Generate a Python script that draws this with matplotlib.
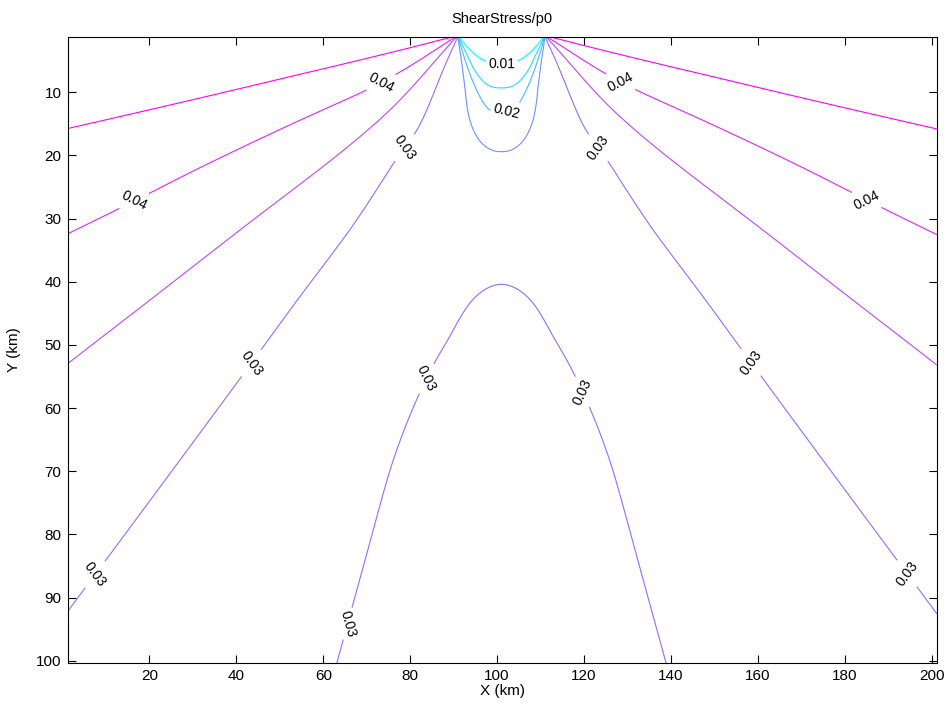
import numpy as np
import matplotlib
matplotlib.use("Agg")
import matplotlib.pyplot as plt
from matplotlib import colors as mcolors

# ---------------- data ----------------
title = "ShearStress/p0"
xlabel = "X (km)"
ylabel = "Y (km)"
levels = [0.01, 0.015, 0.02, 0.025, 0.03, 0.035, 0.04, 0.045]
label_levels = [0.01, 0.02, 0.03, 0.04]
xticks = [20, 40, 60, 80, 100, 120, 140, 160, 180, 200]
yticks = [10, 20, 30, 40, 50, 60, 70, 80, 90, 100]

# loaded strip at the surface (km)
strip_left, strip_right, surface_y = 91.0, 111.0, 1.0

# contour crossings (left half; the field is symmetric)
c045_x = [1.7, 30.1, 52.3, 76.1]
c045_y = [15.7, 11.2, 7.5, 3.6]
c040_x = [1.3, 13.2, 30.1, 53.1, 69.2, 78.4]
c040_y = [32.3, 28.6, 22.3, 14.9, 9.9, 6.5]
c035_x = [1.2, 20.2, 40.8, 60.8, 76.1]
c035_y = [52.9, 42.9, 31.8, 21.3, 12.3]
c030_x = [1.3, 10.6, 25.9, 40.9, 54.0, 66.1, 76.1, 81.8]
c030_y = [91.9, 83.6, 69.3, 55.3, 42.9, 31.8, 21.3, 15.7]
dome_x = [101.0, 93.7, 89.1, 81.1, 75.3, 71.1, 66.9, 63.1]
dome_y = [40.4, 43.4, 48.7, 59.3, 69.8, 80.4, 90.9, 100.4]
strip_x = [101.0, 101.0, 101.0, 101.0, 92.6, 94.5, 98.3, 94.5, 97.6, 98.3]
strip_y = [5.5, 9.3, 13.0, 19.4, 9.3, 15.9, 19.0, 6.1, 8.7, 12.8]
strip_v = [0.01, 0.015, 0.02, 0.025, 0.025, 0.025, 0.025, 0.015, 0.015, 0.02]
# directions (deg below the outward surface) of the contours leaving the strip edge
edge_dir = [0.0, 10.0, 23.6, 37.0, 58.0, 101.0, 112.0, 124.0, 140.0, 175.0]
edge_val = [0.048, 0.045, 0.04, 0.035, 0.03, 0.025, 0.02, 0.015, 0.01, 0.006]
# values between the contours
fill_x = [1.3, 101.0, 101.0, 30.0]
fill_y = [1.5, 1.8, 95.0, 95.0]
fill_v = [0.048, 0.006, 0.032, 0.0285]

# label anchor points (x, y)
label_pos = [(73.0, 8.1), (16.4, 27.1), (128.3, 8.5), (185.3, 26.7),
             (78.4, 18.6), (123.2, 18.8), (43.1, 52.7), (159.3, 52.3),
             (7.0, 86.1), (194.5, 86.1), (83.4, 55.2), (119.0, 57.6),
             (65.0, 94.0), (101.1, 6.0), (102.2, 12.8)]

edge_r = 3.0
edge_x = [strip_left - edge_r * np.cos(np.radians(t)) for t in edge_dir]
edge_y = [surface_y + max(edge_r * np.sin(np.radians(t)), 0.3) for t in edge_dir]

pts_x = c045_x + c040_x + c035_x + c030_x + dome_x + strip_x + edge_x + fill_x
pts_y = c045_y + c040_y + c035_y + c030_y + dome_y + strip_y + edge_y + fill_y
pts_v = ([0.045] * len(c045_x) + [0.04] * len(c040_x) + [0.035] * len(c035_x)
         + [0.03] * len(c030_x) + [0.03] * len(dome_x) + strip_v + edge_val
         + fill_v)


# ---------------- smooth field through the read points ----------------
def angle_coords(x, y):
    x = np.asarray(x, float)
    d = np.maximum(np.asarray(y, float) - surface_y, 1e-6)
    a = np.degrees(np.arctan2(d, strip_left - x))
    b = np.degrees(np.arctan2(d, x - strip_right))
    psi = (a - b + 180.0) / 2.0
    alpha = a + b - 180.0
    return psi / 90.0, alpha / 90.0


pu, pv = angle_coords(pts_x, pts_y)
# mirror for the symmetric right half
pu = np.concatenate([pu, 2.0 - pu])
pv = np.concatenate([pv, pv])
vals = np.concatenate([pts_v, pts_v])


def tps_kernel(r):
    with np.errstate(divide='ignore', invalid='ignore'):
        k = r ** 2 * np.log(r)
    return np.where(r > 0, k, 0.0)


n = len(pu)
R = np.hypot(pu[:, None] - pu[None, :], pv[:, None] - pv[None, :])
K = tps_kernel(R) + 2e-4 * np.eye(n)
Pm = np.column_stack([np.ones(n), pu, pv])
M = np.zeros((n + 3, n + 3))
M[:n, :n] = K
M[:n, n:] = Pm
M[n:, :n] = Pm.T
sol = np.linalg.solve(M, np.concatenate([vals, np.zeros(3)]))
w, c = sol[:n], sol[n:]

xg = np.linspace(1.2, 201.2, 760)
yg = np.linspace(1.3, 100.4, 460)
X, Y = np.meshgrid(xg, yg)
GU, GV = angle_coords(X, Y)
Z = c[0] + c[1] * GU + c[2] * GV
for i in range(n):
    Z = Z + w[i] * tps_kernel(np.hypot(GU - pu[i], GV - pv[i]))

# ---------------- figure ----------------
plt.rcParams['font.family'] = ['Liberation Sans', 'DejaVu Sans']
fig = plt.figure(figsize=(9.47, 7.07), dpi=100)
ax = fig.add_axes([0.0715, 0.0627, 0.9176, 0.8845])

norm = mcolors.Normalize(vmin=min(levels), vmax=max(levels))
plain_levels = [lv for lv in levels if lv not in label_levels]
ax.contour(X, Y, Z, levels=plain_levels, cmap='cool', norm=norm, linewidths=0.8)
cs_lab = ax.contour(X, Y, Z, levels=label_levels, cmap='cool', norm=norm,
                    linewidths=0.8)
ax.clabel(cs_lab, manual=label_pos, inline=True, fmt='%g', fontsize=10,
          colors='k', inline_spacing=3)

ax.set_xlim(1.2, 201.15)
ax.set_ylim(100.3, 1.3)
ax.set_xticks(xticks)
ax.set_yticks(yticks)
ax.tick_params(direction='in', top=True, right=True, length=6, width=0.8,
               labelsize=11, pad=4.5)
for s in ax.spines.values():
    s.set_linewidth(0.8)
ax.set_title(title, fontsize=10.5, pad=10)
ax.set_xlabel(xlabel, fontsize=11, labelpad=1)
ax.set_ylabel(ylabel, fontsize=11, labelpad=11)

fig.savefig("out.png", dpi=100)
